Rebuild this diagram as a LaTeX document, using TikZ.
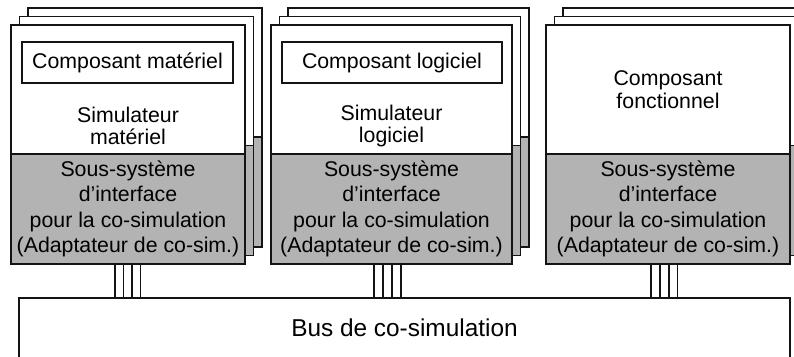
\documentclass[tikz,border=0pt]{standalone}
\usepackage{fontspec}
\setmainfont{Liberation Sans}
\definecolor{shade}{RGB}{179,179,179}
\definecolor{ink}{RGB}{20,20,20}
\begin{document}
\begin{tikzpicture}[x=1pt,y=-1pt,
  box/.style={draw=ink, line width=1.2pt, anchor=north west, inner sep=0pt, outer sep=0pt, align=center},
  upper/.style={box, fill=white, minimum height=129pt, font=\fontsize{21.3}{23}\selectfont},
  lower/.style={box, fill=shade, minimum height=110pt, font=\fontsize{21.3}{25.5}\selectfont},
  inner/.style={box, fill=white, minimum height=41pt, font=\fontsize{21.3}{23}\selectfont},
  label/.style={align=center, inner sep=0pt, font=\fontsize{21.3}{22.5}\selectfont},
  wire/.style={draw=ink, line width=1.1pt},
  busbox/.style={box, fill=white, minimum width=771pt, minimum height=90pt}
]
\useasboundingbox (0,0) rectangle (794,356);
\clip (0,0) rectangle (794,356);

% ---------- group 1 : hardware ----------
\node[upper, minimum width=234pt] (a3u) at (28,8) {};
\node[lower, minimum width=234pt] (a3l) at (a3u.south west) {};
\node[upper, minimum width=234pt] (a2u) at (19.5,16.5) {};
\node[lower, minimum width=234pt] (a2l) at (a2u.south west) {};
\node[upper, minimum width=234pt] (a1u) at (11,25) {};
\node[lower, minimum width=234pt] (a1l) at (a1u.south west) {Sous-système\\d’interface\\pour la co-simulation\\(Adaptateur de co-sim.)};
\node[inner, minimum width=211pt] (a1c) at (22,42) {Composant matériel};
\node[label] (a1t) at (128,126) {Simulateur\\matériel};

% ---------- group 2 : software ----------
\node[upper, minimum width=241pt] (b3u) at (288,8) {};
\node[lower, minimum width=241pt] (b3l) at (b3u.south west) {};
\node[upper, minimum width=241pt] (b2u) at (279.5,16.5) {};
\node[lower, minimum width=241pt] (b2l) at (b2u.south west) {};
\node[upper, minimum width=241pt] (b1u) at (271,25) {};
\node[lower, minimum width=241pt] (b1l) at (b1u.south west) {Sous-système\\d’interface\\pour la co-simulation\\(Adaptateur de co-sim.)};
\node[inner, minimum width=220pt] (b1c) at (282,42) {Composant logiciel};
\node[label] (b1t) at (391.5,126) {Simulateur\\logiciel};

% ---------- group 3 : functional ----------
\node[upper, minimum width=244pt] (c3u) at (563,8) {};
\node[lower, minimum width=244pt] (c3l) at (c3u.south west) {};
\node[upper, minimum width=244pt] (c2u) at (554.5,16.5) {};
\node[lower, minimum width=244pt] (c2l) at (c2u.south west) {};
\node[upper, minimum width=244pt] (c1u) at (546,25) {Composant\\fonctionnel};
\node[lower, minimum width=244pt] (c1l) at (c1u.south west) {Sous-système\\d’interface\\pour la co-simulation\\(Adaptateur de co-sim.)};

% ---------- bus ----------
\node[busbox] (bus) at (19,298) {};
\node[inner sep=0pt, font=\fontsize{24.4}{26}\selectfont] (bust) at (404.5,328) {Bus de co-simulation};

% ---------- wires ----------
\foreach \i/\x in {1/115,2/123.5,3/132,4/140.5} {
  \coordinate (wa\i) at (\x,0);
  \draw[wire] (a1l.south -| wa\i) -- (bus.north -| wa\i);
}
\foreach \i/\x in {1/374,2/383,3/392,4/401} {
  \coordinate (wb\i) at (\x,0);
  \draw[wire] (b1l.south -| wb\i) -- (bus.north -| wb\i);
}
\foreach \i/\x in {1/651,2/660,3/669,4/677.5} {
  \coordinate (wc\i) at (\x,0);
  \draw[wire] (c1l.south -| wc\i) -- (bus.north -| wc\i);
}
\end{tikzpicture}
\end{document}
